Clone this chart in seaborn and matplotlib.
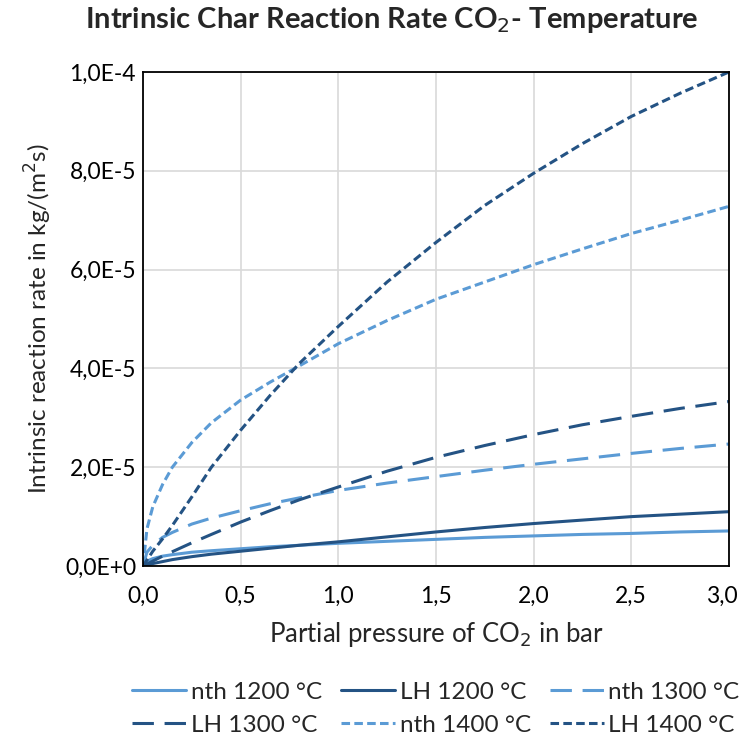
import numpy as np
import pandas as pd
import matplotlib
matplotlib.use("Agg")
import matplotlib.pyplot as plt
from matplotlib.ticker import FuncFormatter, MultipleLocator
from matplotlib.transforms import ScaledTranslation
import seaborn as sns

# ---- data (rate in 1e-5 kg/(m^2 s)) ----
pressure = [0, 0.02, 0.05, 0.1, 0.15, 0.25, 0.35, 0.5, 0.65, 0.8, 1.0,
            1.25, 1.5, 1.75, 2.0, 2.25, 2.5, 2.75, 3.0]
nth_1200 = [0, 0.10, 0.15, 0.20, 0.23, 0.28, 0.31, 0.35, 0.39, 0.42, 0.46,
            0.50, 0.54, 0.58, 0.61, 0.64, 0.66, 0.69, 0.71]
lh_1200 = [0, 0.02, 0.05, 0.09, 0.13, 0.19, 0.24, 0.30, 0.36, 0.42, 0.49,
           0.59, 0.69, 0.78, 0.86, 0.93, 1.00, 1.05, 1.10]
nth_1300 = [0, 0.28, 0.42, 0.58, 0.68, 0.85, 0.97, 1.12, 1.26, 1.38, 1.53,
            1.68, 1.81, 1.94, 2.06, 2.17, 2.28, 2.38, 2.47]
lh_1300 = [0, 0.04, 0.10, 0.20, 0.29, 0.47, 0.64, 0.89, 1.12, 1.34, 1.60,
           1.92, 2.20, 2.44, 2.66, 2.86, 3.03, 3.19, 3.33]
nth_1400 = [0, 0.75, 1.20, 1.65, 2.00, 2.50, 2.90, 3.36, 3.72, 4.05, 4.50,
            4.97, 5.40, 5.75, 6.10, 6.42, 6.73, 7.00, 7.28]
lh_1400 = [0, 0.12, 0.30, 0.55, 0.82, 1.40, 2.00, 2.75, 3.45, 4.10, 4.85,
           5.75, 6.55, 7.30, 7.95, 8.55, 9.10, 9.57, 10.0]

x_ticks = [0.0, 0.5, 1.0, 1.5, 2.0, 2.5, 3.0]
x_tick_labels = ["0,0", "0,5", "1,0", "1,5", "2,0", "2,5", "3,0"]

series_names = ["nth 1200 °C", "LH 1200 °C", "nth 1300 °C",
                "LH 1300 °C", "nth 1400 °C", "LH 1400 °C"]
series_values = [nth_1200, lh_1200, nth_1300, lh_1300, nth_1400, lh_1400]

rows = []
for name, vals in zip(series_names, series_values):
    for p, v in zip(pressure, vals):
        rows.append({"p": p, "rate": v * 1e-5, "series": name})
df = pd.DataFrame(rows)

LIGHT = "#5B9BD5"
DARK = "#245384"
palette = {n: (LIGHT if n.startswith("nth") else DARK) for n in series_names}
dash_map = {
    "nth 1200 °C": "", "LH 1200 °C": "",
    "nth 1300 °C": (7, 3.5), "LH 1300 °C": (7, 3.5),
    "nth 1400 °C": (2.8, 1.4), "LH 1400 °C": (2.8, 1.4),
}

sns.set_style("white")
plt.rcParams["font.family"] = ["Lato", "DejaVu Sans"]

fig = plt.figure(figsize=(7.43, 7.44), dpi=100)
ax = fig.add_axes([0.1925, 0.2392, 0.981 - 0.1925, 0.9032 - 0.2392])

sns.lineplot(data=df, x="p", y="rate", hue="series", style="series",
             hue_order=series_names, style_order=series_names,
             palette=palette, dashes=dash_map, linewidth=2.2, ax=ax,
             legend=True)

ax.set_xlim(0, 3)
ax.set_ylim(0, 1e-4)
ax.set_xticks(x_ticks, x_tick_labels)
ax.yaxis.set_major_locator(MultipleLocator(2e-5))


def yfmt(v, _):
    if abs(v) < 1e-12:
        return "0,0E+0"
    m, e = f"{v:.1E}".split("E")
    return f"{m.replace('.', ',')}E{int(e):+d}".replace("E+-", "E-")


ax.yaxis.set_major_formatter(FuncFormatter(yfmt))
ax.grid(True, color="#D9D9D9", linewidth=1.2)
ax.set_axisbelow(True)
for s in ax.spines.values():
    s.set_color("black")
    s.set_linewidth(1.3)
ax.tick_params(direction="in", length=6, width=1.5, colors="black",
               labelsize=16.5, pad=5)
ax.tick_params(axis="x", pad=14)

# nudge the last x tick label so it stays inside the figure
last_lbl = ax.get_xticklabels()[-1]
last_lbl.set_transform(last_lbl.get_transform()
                       + ScaledTranslation(-5 / 72, 0, fig.dpi_scale_trans))

ax.set_xlabel("Partial pressure of CO$_2$ in bar", fontsize=18.5, labelpad=10)
ax.set_ylabel("Intrinsic reaction rate in kg/(m$^2$s)", fontsize=17.5, labelpad=8)
fig.text(0.527, 0.993, "Intrinsic Char Reaction Rate CO$_2$- Temperature",
         ha="center", va="top", fontsize=21, fontweight="bold")

handles, labels = ax.get_legend_handles_labels()
hmap = dict(zip(labels, handles))
order = [0, 3, 1, 4, 2, 5]
ax.legend([hmap[series_names[i]] for i in order],
          [series_names[i] for i in order],
          ncol=3, loc="upper center", bbox_to_anchor=(0.5, -0.19),
          frameon=False, fontsize=17.5, handlelength=2.2, handletextpad=0.2,
          columnspacing=0.8, labelspacing=0.5)

fig.savefig("out.png", dpi=100)
